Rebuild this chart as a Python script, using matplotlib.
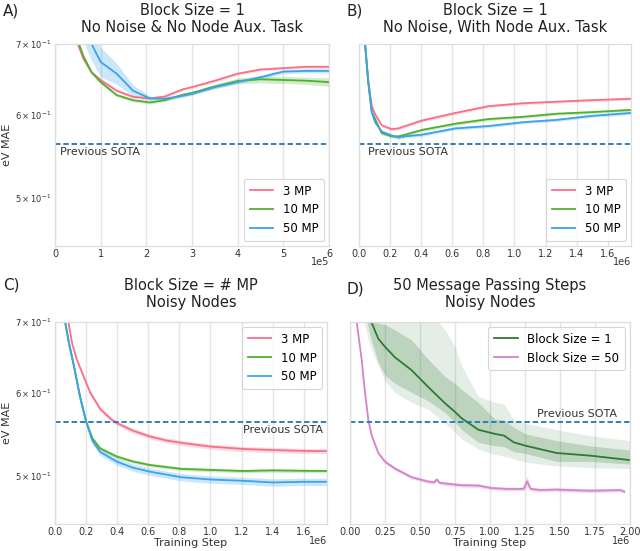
import matplotlib
matplotlib.use("Agg")
import matplotlib.pyplot as plt
import numpy as np
from matplotlib.ticker import MultipleLocator, NullFormatter, ScalarFormatter

# ---------------- data ----------------
sota = 0.5625

# Panel A (x in units of 1e5 steps)
a_x = [0.3, 0.5, 0.62, 0.8, 1.0, 1.35, 1.71, 2.08, 2.4, 2.8, 3.0, 3.5, 4.0, 4.5, 5.0, 5.5, 6.0]
a_3mp = [0.76, 0.70, 0.678, 0.658, 0.647, 0.632, 0.6235, 0.6215, 0.624, 0.634, 0.637, 0.646, 0.656, 0.662, 0.664, 0.666, 0.666]
a_10mp = [0.77, 0.705, 0.682, 0.658, 0.644, 0.626, 0.619, 0.616, 0.619, 0.6265, 0.629, 0.638, 0.6456, 0.648, 0.647, 0.646, 0.644]
a_50mp = [0.82, 0.77, 0.735, 0.70, 0.673, 0.656, 0.632, 0.6215, 0.621, 0.625, 0.6275, 0.637, 0.644, 0.651, 0.659, 0.660, 0.660]
a_3mp_err = [0.002] * 17
a_10mp_err = [0.002, 0.002, 0.002, 0.002, 0.002, 0.002, 0.002, 0.002, 0.002, 0.002, 0.002, 0.003, 0.004, 0.005, 0.005, 0.005, 0.006]
a_50mp_err = [0.03, 0.03, 0.03, 0.025, 0.022, 0.015, 0.008, 0.003, 0.002, 0.002, 0.002, 0.002, 0.002, 0.002, 0.003, 0.003, 0.003]

# Panel B (x in units of 1e6 steps)
b_x = [0.02, 0.039, 0.06, 0.082, 0.103, 0.146, 0.21, 0.254, 0.297, 0.404, 0.62, 0.834, 1.06, 1.275, 1.49, 1.75]
b_3mp = [0.80, 0.70, 0.645, 0.611, 0.6007, 0.586, 0.581, 0.582, 0.585, 0.592, 0.602, 0.611, 0.615, 0.617, 0.619, 0.621]
b_10mp = [0.80, 0.70, 0.643, 0.6035, 0.5944, 0.576, 0.572, 0.572, 0.574, 0.580, 0.588, 0.594, 0.597, 0.601, 0.603, 0.606]
b_50mp = [0.80, 0.70, 0.643, 0.6035, 0.590, 0.578, 0.573, 0.5705, 0.572, 0.574, 0.582, 0.585, 0.590, 0.593, 0.598, 0.602]

# Panel C (x in units of 1e6 steps)
c_x_3mp = [0.05, 0.086, 0.11, 0.14, 0.183, 0.226, 0.29, 0.36, 0.40, 0.50, 0.61, 0.72, 0.83, 1.0, 1.21, 1.4, 1.6, 1.75]
c_3mp = [0.80, 0.70, 0.668, 0.645, 0.622, 0.600, 0.579, 0.566, 0.561, 0.552, 0.545, 0.540, 0.537, 0.533, 0.5303, 0.529, 0.528, 0.5277]
c_x = [0.04, 0.065, 0.09, 0.118, 0.161, 0.2, 0.24, 0.29, 0.398, 0.5, 0.61, 0.81, 1.0, 1.21, 1.4, 1.6, 1.75]
c_10mp = [0.80, 0.70, 0.668, 0.6396, 0.5945, 0.563, 0.543, 0.531, 0.5215, 0.516, 0.512, 0.5077, 0.5065, 0.5053, 0.506, 0.5055, 0.5053]
c_50mp = [0.80, 0.70, 0.668, 0.6396, 0.5945, 0.563, 0.540, 0.527, 0.5158, 0.509, 0.5046, 0.4985, 0.4960, 0.4946, 0.4928, 0.4935, 0.4935]

# Panel D (x in units of 1e6 steps)
d_x_b1 = [0.10, 0.143, 0.202, 0.25, 0.321, 0.44, 0.56, 0.679, 0.75, 0.798, 0.917, 1.036, 1.10, 1.17, 1.255, 1.476, 1.714, 2.0]
d_b1 = [0.76, 0.705, 0.675, 0.663, 0.648, 0.630, 0.607, 0.586, 0.575, 0.567, 0.553, 0.548, 0.546, 0.538, 0.534, 0.5256, 0.5226, 0.5175]
d_b1_in_hi = [0.80, 0.75, 0.698, 0.696, 0.688, 0.673, 0.645, 0.621, 0.612, 0.604, 0.587, 0.566, 0.565, 0.556, 0.548, 0.540, 0.534, 0.529]
d_b1_in_lo = [0.72, 0.68, 0.640, 0.623, 0.612, 0.600, 0.589, 0.574, 0.562, 0.553, 0.538, 0.534, 0.533, 0.527, 0.525, 0.516, 0.516, 0.513]
d_b1_out_hi = [0.80, 0.78, 0.76, 0.75, 0.74, 0.73, 0.72, 0.688, 0.663, 0.636, 0.595, 0.587, 0.585, 0.565, 0.561, 0.553, 0.546, 0.540]
d_b1_out_lo = [0.70, 0.665, 0.636, 0.615, 0.600, 0.587, 0.578, 0.561, 0.550, 0.542, 0.530, 0.524, 0.522, 0.519, 0.515, 0.511, 0.509, 0.508]
d_x_b50 = [0.03, 0.048, 0.083, 0.107, 0.131, 0.155, 0.202, 0.25, 0.321, 0.44, 0.56, 0.60, 0.62, 0.64, 0.679, 0.798, 0.917, 1.01, 1.12, 1.21, 1.24, 1.265, 1.29, 1.357, 1.476, 1.6, 1.714, 1.83, 1.93, 1.96]
d_b50 = [0.75, 0.70, 0.645, 0.600, 0.565, 0.546, 0.5256, 0.5157, 0.508, 0.4985, 0.4937, 0.4930, 0.4960, 0.4925, 0.4917, 0.4898, 0.4895, 0.4868, 0.4859, 0.4859, 0.4860, 0.4940, 0.4860, 0.4847, 0.4852, 0.4845, 0.4840, 0.4843, 0.4847, 0.4830]
d_b50_err = [0.002] * 21 + [0.006] + [0.002] * 8

legend_mp = ["3 MP", "10 MP", "50 MP"]
legend_d = ["Block Size = 1", "Block Size = 50"]
titles = ["Block Size = 1\nNo Noise & No Node Aux. Task",
          "Block Size = 1\nNo Noise, With Node Aux. Task",
          "Block Size = # MP\nNoisy Nodes",
          "50 Message Passing Steps\nNoisy Nodes"]
letters = ["A)", "B)", "C)", "D)"]
offsets = ["1e5", "1e6", "1e6", "1e6"]

# ---------------- style ----------------
c3, c10, c50 = "#f7718a", "#50b131", "#3ba3ec"
cd1, cd50 = "#2e7a34", "#d683c9"
sota_c = "#1f77b4"
txt_c = "#333333"
W, H = 640, 551
fig = plt.figure(figsize=(W / 100, H / 100), dpi=100)

def box(l, r, t, b):
    return [l / W, 1 - b / H, (r - l) / W, (b - t) / H]

axA = fig.add_axes(box(55, 329, 44, 246))
axB = fig.add_axes(box(359, 631, 44, 246))
axC = fig.add_axes(box(55, 327, 322, 524))
axD = fig.add_axes(box(350, 630, 322, 524))

def style(ax):
    ax.set_yscale("log")
    ax.set_ylim(0.45, 0.7)
    for s in ax.spines.values():
        s.set_color("#dddddd")
        s.set_linewidth(0.9)
    ax.grid(True, axis="x", color="#e3e3e3", linewidth=1.0)
    ax.set_axisbelow(True)
    ax.tick_params(axis="x", which="both", length=0, labelsize=7, colors=txt_c, pad=2)
    ax.tick_params(axis="y", which="both", length=0, labelsize=6, colors=txt_c, pad=2.5)
    fmt = ScalarFormatter(useMathText=False)
    fmt.set_powerlimits((0, 0))
    ax.xaxis.set_major_formatter(fmt)
    ax.xaxis.get_offset_text().set_visible(False)

def band(ax, x, y, e, color, alpha=0.25):
    x = np.asarray(x); y = np.asarray(y); e = np.asarray(e)
    ax.fill_between(x, y - e, y + e, color=color, alpha=alpha, linewidth=0)

def sota_line(ax, xf, above, ha):
    ax.axhline(sota, color=sota_c, linestyle=(0, (3, 1.6)), linewidth=1.3)
    ax.annotate("Previous SOTA", xy=(xf, sota), xycoords=ax.get_yaxis_transform(),
                xytext=(0, 2 if above else -2), textcoords="offset points",
                ha=ha, va="bottom" if above else "top", fontsize=8, color=txt_c)

def leg(ax, loc, handles, labels):
    lg = ax.legend(handles, labels, loc=loc, fontsize=8.5, handlelength=2.0,
                   handletextpad=0.8, frameon=True, borderaxespad=0.4,
                   labelspacing=0.5, borderpad=0.5)
    lg.get_frame().set_edgecolor("#cccccc")
    lg.get_frame().set_linewidth(0.8)

lw = 1.3
# Panel A
ax = axA
xa = np.array(a_x) * 1e5
band(ax, xa, np.array(a_3mp), a_3mp_err, c3)
band(ax, xa, np.array(a_10mp), a_10mp_err, c10)
band(ax, xa, np.array(a_50mp), a_50mp_err, c50)
hA = [ax.plot(xa, a_3mp, color=c3, lw=lw)[0],
      ax.plot(xa, a_10mp, color=c10, lw=lw)[0],
      ax.plot(xa, a_50mp, color=c50, lw=lw)[0]]
ax.set_xlim(0, 6e5)
style(ax)
ax.xaxis.set_major_locator(MultipleLocator(1e5))
sota_line(ax, 0.018, False, "left")
leg(ax, "lower right", hA, legend_mp)
ax.set_ylabel("eV MAE", fontsize=8, color=txt_c, labelpad=2)

# Panel B
ax = axB
xb = np.array(b_x) * 1e6
hB = []
for v, c in ((b_3mp, c3), (b_10mp, c10), (b_50mp, c50)):
    band(ax, xb, np.array(v), [0.002] * len(v), c)
    hB.append(ax.plot(xb, v, color=c, lw=lw)[0])
ax.set_xlim(0, 1.75e6)
style(ax)
ax.xaxis.set_major_locator(MultipleLocator(2e5))
ax.yaxis.set_major_formatter(NullFormatter())
ax.yaxis.set_minor_formatter(NullFormatter())
sota_line(ax, 0.033, False, "left")
leg(ax, "lower right", hB, legend_mp)

# Panel C
ax = axC
xc3 = np.array(c_x_3mp) * 1e6
xc = np.array(c_x) * 1e6
band(ax, xc3, np.array(c_3mp), [0.003] * len(c_3mp), c3)
band(ax, xc, np.array(c_10mp), [0.002] * len(c_10mp), c10)
band(ax, xc, np.array(c_50mp), [0.004] * len(c_50mp), c50)
hC = [ax.plot(xc3, c_3mp, color=c3, lw=lw)[0],
      ax.plot(xc, c_10mp, color=c10, lw=lw)[0],
      ax.plot(xc, c_50mp, color=c50, lw=lw)[0]]
ax.set_xlim(0, 1.75e6)
style(ax)
ax.xaxis.set_major_locator(MultipleLocator(2e5))
sota_line(ax, 0.985, False, "right")
leg(ax, "upper right", hC, legend_mp)
ax.set_ylabel("eV MAE", fontsize=8, color=txt_c, labelpad=2)
ax.set_xlabel("Training Step", fontsize=8, color=txt_c, labelpad=1)

# Panel D
ax = axD
xd1 = np.array(d_x_b1) * 1e6
xd50 = np.array(d_x_b50) * 1e6
ax.fill_between(xd1, d_b1_out_lo, d_b1_out_hi, color=cd1, alpha=0.12, linewidth=0)
ax.fill_between(xd1, d_b1_in_lo, d_b1_in_hi, color=cd1, alpha=0.22, linewidth=0)
band(ax, xd50, np.array(d_b50), d_b50_err, cd50, alpha=0.3)
hD = [ax.plot(xd1, d_b1, color=cd1, lw=lw)[0],
      ax.plot(xd50, d_b50, color=cd50, lw=lw)[0]]
ax.set_xlim(0, 2e6)
style(ax)
ax.xaxis.set_major_locator(MultipleLocator(2.5e5))
ax.yaxis.set_major_formatter(NullFormatter())
ax.yaxis.set_minor_formatter(NullFormatter())
sota_line(ax, 0.955, True, "right")
leg(ax, "upper right", hD, legend_d)
ax.set_xlabel("Training Step", fontsize=8, color=txt_c, labelpad=1)

axA.set_title(titles[0], fontsize=10.5, color="#222222", pad=9, linespacing=1.15)
axB.set_title(titles[1], fontsize=10.5, color="#222222", pad=9, linespacing=1.15)
axC.set_title(titles[2], fontsize=10.5, color="#222222", pad=11, linespacing=1.15)
axD.set_title(titles[3], fontsize=10.5, color="#222222", pad=11, linespacing=1.15)

# offset texts ("1e5"/"1e6") under the right end of each x axis
fig.text(329 / W, 1 - 262 / H, offsets[0], fontsize=7, color=txt_c, ha="right", va="center")
fig.text(631 / W, 1 - 262 / H, offsets[1], fontsize=7, color=txt_c, ha="right", va="center")
fig.text(327 / W, 1 - 541 / H, offsets[2], fontsize=7, color=txt_c, ha="right", va="center")
fig.text(630 / W, 1 - 541 / H, offsets[3], fontsize=7, color=txt_c, ha="right", va="center")

fig.text(3 / W, 1 - 4 / H, letters[0], fontsize=11, va="top", ha="left", color="#222222")
fig.text(346 / W, 1 - 4 / H, letters[1], fontsize=11, va="top", ha="left", color="#222222")
fig.text(3 / W, 1 - 277 / H, letters[2], fontsize=11, va="top", ha="left", color="#222222")
fig.text(346 / W, 1 - 282 / H, letters[3], fontsize=11, va="top", ha="left", color="#222222")

fig.savefig("out.png", dpi=100)
